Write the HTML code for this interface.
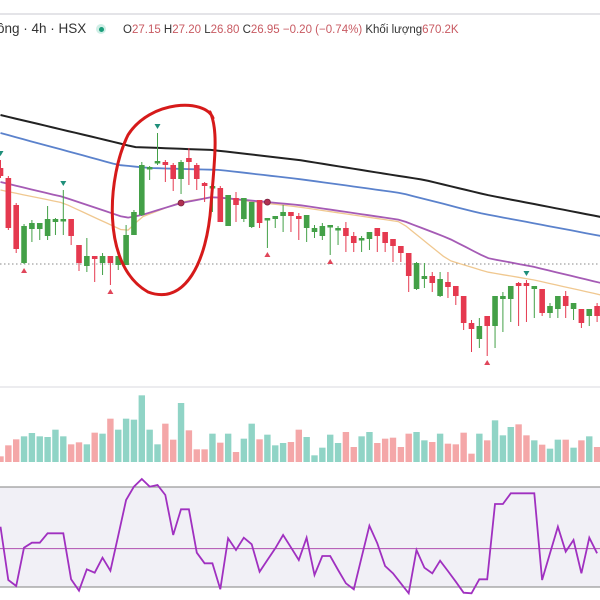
<!DOCTYPE html>
<html><head><meta charset="utf-8"><style>
html,body{margin:0;padding:0;background:#fff;width:600px;height:600px;overflow:hidden;font-family:"Liberation Sans","Noto Sans CJK SC",sans-serif}
#hdr{position:absolute;left:0;top:0;width:600px;height:45px}
.sym{position:absolute;left:-3px;top:21px;font-size:13.5px;color:#333}
.dot{position:absolute;left:96px;top:24px;width:10px;height:10px;border-radius:50%;background:#cfeee6}
.dot::after{content:"";position:absolute;left:2.5px;top:2.5px;width:5px;height:5px;border-radius:50%;background:#1a9e7a}
.ohlc{position:absolute;left:123px;top:24px;font-size:11.5px;color:#333;white-space:nowrap}
.ohlc span{color:#c85a62}
</style></head><body>
<div id="hdr">
<div style="position:absolute;left:0;top:13px;width:600px;height:2px;background:#e4e4e8"></div>
<div class="sym">ông · 4h · HSX</div>
<div class="dot"></div>
<div class="ohlc">O<span>27.15</span> H<span>27.20</span> L<span>26.80</span> C<span>26.95</span> <span>−0.20 (−0.74%)</span> Khối lượng<span>670.2K</span></div>
</div>
<svg id="chart" width="600" height="600" style="position:absolute;left:0;top:0"></svg>
<script>
const opens=[28.32,28.22,27.95,27.37,27.71,27.71,27.64,27.78,27.80,27.81,27.55,27.34,27.44,27.37,27.44,27.35,27.35,27.65,27.85,28.32,28.38,28.38,28.35,28.21,28.42,28.35,28.17,28.12,28.12,27.74,28.02,27.81,27.73,28.00,27.81,27.81,27.84,27.88,27.84,27.72,27.68,27.64,27.74,27.71,27.72,27.64,27.61,27.61,27.72,27.68,27.61,27.54,27.47,27.11,27.21,27.24,27.04,27.18,27.14,27.04,26.77,26.61,26.84,26.74,27.01,27.01,27.17,27.17,27.11,27.11,26.87,26.91,27.04,26.91,26.91,26.84,26.94];
const highs=[28.40,28.24,27.97,27.76,27.80,27.77,27.94,27.82,28.10,27.81,27.55,27.62,27.44,27.47,27.44,27.44,27.75,27.90,28.38,28.34,28.67,28.40,28.37,28.40,28.52,28.37,28.18,28.18,28.14,28.05,28.08,28.02,27.98,28.00,27.82,27.84,27.95,27.88,27.87,27.85,27.75,27.77,27.75,27.74,27.78,27.68,27.64,27.68,27.72,27.68,27.61,27.54,27.47,27.38,27.37,27.28,27.28,27.28,27.14,27.04,26.80,26.82,26.84,27.04,27.08,27.14,27.18,27.20,27.14,27.11,26.97,27.04,27.09,26.97,26.91,26.91,26.97];
const lows=[28.22,27.70,27.47,27.36,27.58,27.60,27.60,27.65,27.65,27.55,27.29,27.28,27.18,27.25,27.15,27.30,27.35,27.65,27.84,28.20,28.35,28.18,28.09,28.06,28.15,28.10,27.98,27.88,27.78,27.74,27.78,27.78,27.72,27.72,27.52,27.72,27.68,27.68,27.60,27.58,27.62,27.60,27.45,27.55,27.48,27.48,27.48,27.50,27.48,27.48,27.38,27.38,27.08,27.10,27.12,27.08,27.03,27.02,26.95,26.70,26.48,26.52,26.44,26.52,26.68,26.78,26.74,26.78,26.82,26.84,26.82,26.82,26.82,26.80,26.72,26.74,26.78];
const closes=[28.24,27.72,27.51,27.74,27.77,27.77,27.81,27.81,27.81,27.64,27.37,27.44,27.41,27.44,27.37,27.44,27.65,27.88,28.35,28.33,28.39,28.35,28.21,28.38,28.38,28.21,28.14,28.14,27.78,28.05,27.95,28.02,27.98,27.77,27.82,27.84,27.88,27.84,27.81,27.85,27.72,27.74,27.75,27.72,27.64,27.57,27.62,27.68,27.64,27.57,27.54,27.47,27.24,27.37,27.24,27.17,27.21,27.13,27.04,26.77,26.71,26.74,26.74,27.04,27.04,27.14,27.14,27.14,27.14,26.87,26.94,27.04,26.94,26.97,26.77,26.91,26.84];
const volumes=[170,500,680,770,870,770,750,970,770,530,590,530,880,850,1300,970,1300,1270,2000,970,530,1150,670,1770,950,380,380,850,580,850,300,700,1150,680,820,500,570,600,970,750,200,430,820,570,900,450,770,900,570,700,730,450,850,900,650,600,850,550,530,880,250,850,650,1250,800,1050,1130,800,650,520,400,670,670,430,650,770,450];
const rsi=[56.2,24.2,20.6,43.6,46.6,46.6,52.2,52.2,52.2,24.6,17.8,30.6,28.6,37.6,29.8,51,72.2,80.2,84.8,80.2,81.2,75.2,51.2,66.6,66.6,40.6,34.2,34.2,18.6,49.2,42.2,49.6,45.6,29.2,36.2,43.2,51.2,43.8,36.2,49.6,27.2,38.6,38.6,30.2,22.2,18.6,37.8,56.8,46.2,32.6,28.2,22.2,16.2,42.2,31.6,28.2,35.8,29.6,23.2,16.6,16.2,24.6,24.6,69.8,69.8,76.2,76.2,76.2,76.2,24.2,40.2,56.2,41.2,48.2,28.2,49.6,40.2];
const maIdx1=[0,15,17,27,38,54,62,76.5];
const ma200=[28.85,28.57,28.53,28.50,28.40,28.20,28.05,27.83];
const maIdx2=[0,15,19,28,38,51,61,76.5];
const ma100=[28.67,28.35,28.32,28.30,28.21,28.07,27.87,27.64];
const maIdx3=[0,8,16,18,23,27,38,51,57,62,68,76.5];
const ma50=[28.18,28.03,27.82,27.85,27.97,28.03,27.95,27.80,27.62,27.42,27.33,27.17];
const ma20=[28.10,27.97,27.68,27.83,27.98,28.03,27.93,27.78,27.40,27.28,27.20,27.05];
const topMarkers=[0,8,20,67];
const bottomMarkers=[3,14,34,42,62];
const crossIdx=[23,34];
const lastPriceLine=27.36;
const rsiBands=[80,20];
const rsiMid=43;

const NS='http://www.w3.org/2000/svg';
const svg=document.getElementById('chart');
const xOf=i=>0.5+7.85*i;
const yP=p=>(30-p)*100;
const yV=v=>462-v/30;
const yR=v=>587-(v-20)*100/60;
function mk(t,a,parent){const e=document.createElementNS(NS,t);for(const k in a)e.setAttribute(k,a[k]);(parent||svg).appendChild(e);return e;}
function interp(idx,vals,i){for(let k=0;k<idx.length-1;k++){if(i>=idx[k]&&i<=idx[k+1]){const t=(i-idx[k])/(idx[k+1]-idx[k]);return vals[k]+t*(vals[k+1]-vals[k]);}}return vals[vals.length-1];}

let s1=mk('line',{x1:0,x2:600,y1:387,y2:387,stroke:'#e6e6ea','stroke-width':1.5});



let band=mk('rect',{x:0,y:yR(rsiBands[0]),width:600,height:yR(rsiBands[1])-yR(rsiBands[0]),fill:'#f1f0f6'});


rsiBands.forEach(b=>{const l=mk('line',{x1:0,x2:600,y1:yR(b),y2:yR(b),stroke:'#9a9a9a','stroke-width':1.2});

});
let mid=mk('line',{x1:0,x2:600,y1:yR(rsiMid),y2:yR(rsiMid),stroke:'#b04fb0','stroke-width':1});



let pl=mk('line',{x1:0,x2:600,y1:yP(lastPriceLine),y2:yP(lastPriceLine),stroke:'#888','stroke-width':1,'stroke-dasharray':'1.5,2.5'});



function maLine(idx,vals,color,w,name){let d='';const N=80;for(let s=0;s<=N;s++){const i=idx[0]+(idx[idx.length-1]-idx[0])*s/N;d+=(s?'L':'M')+xOf(i).toFixed(1)+' '+yP(interp(idx,vals,i)).toFixed(1);}
const p=mk('path',{d:d,fill:'none',stroke:color,'stroke-width':w});

}
maLine(maIdx3,ma20,'#f0c890',1.3,'ma-20-line');
maLine(maIdx3,ma50,'#a55bb5',1.8,'ma-50-line');
maLine(maIdx2,ma100,'#5b82cc',1.8,'ma-100-line');
maLine(maIdx1,ma200,'#222',2,'ma-200-line');

for(let i=0;i<opens.length;i++){
 const up=closes[i]>=opens[i];const col=up?'#43a047':'#e5394f';const x=xOf(i);
 const w=mk('line',{x1:x,x2:x,y1:yP(highs[i]),y2:yP(lows[i]),stroke:col,'stroke-width':1});
 
 
 const t=Math.min(yP(opens[i]),yP(closes[i]));const h=Math.max(2.5,Math.abs(yP(opens[i])-yP(closes[i])));
 const b=mk('rect',{x:x-2.8,y:t,width:5.6,height:h,fill:col});
 
 
 const v=mk('rect',{x:x-3.2,y:yV(volumes[i]),width:6.4,height:462-yV(volumes[i]),fill:up?'#90d4c6':'#f4a7a8'});
 
 
}
topMarkers.forEach(i=>{const x=xOf(i),y=yP(highs[i])-6;const m=mk('path',{d:`M${x-3} ${y-3}L${x+3} ${y-3}L${x} ${y+2}Z`,fill:'#1f8f7a'});

});
bottomMarkers.forEach(i=>{const x=xOf(i),y=yP(lows[i])+6;const m=mk('path',{d:`M${x-3} ${y+3}L${x+3} ${y+3}L${x} ${y-2}Z`,fill:'#e0465a'});

});
crossIdx.forEach(i=>{const c=mk('circle',{cx:xOf(i),cy:yP(interp(maIdx3,ma50,i)),r:3,fill:'#b03050',stroke:'#7a2040','stroke-width':0.8});

});

let rd='';rsi.forEach((v,i)=>{rd+=(i?'L':'M')+xOf(i).toFixed(1)+' '+yR(v).toFixed(1);});
let rl=mk('path',{d:rd,fill:'none',stroke:'#a030c0','stroke-width':1.8});



let an=mk('path',{d:'M213 118 C205 98,150 100,128 135 C108 175,100 265,148 292 C185 306,207 262,211 205 C214 165,219 130,210 112',fill:'none',stroke:'#d61a1a','stroke-width':3,'stroke-linecap':'round'});


</script>
</body></html>
